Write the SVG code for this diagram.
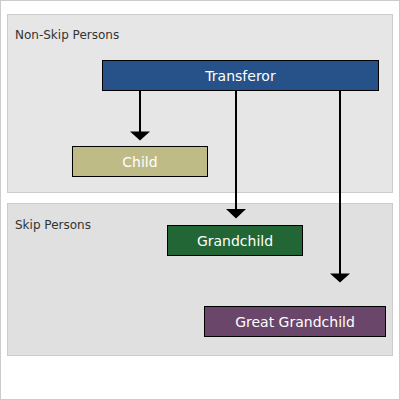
<svg xmlns="http://www.w3.org/2000/svg" width="400" height="400" viewBox="0 0 400 400">
  <style>
    .panel { stroke: #cccccc; stroke-width: 1; }
    .node { stroke: #000000; stroke-width: 1; }
    .lbl { font-family: "DejaVu Sans", Verdana, sans-serif; font-size: 14px; fill: #ffffff; text-anchor: middle; }
    .plbl { font-family: "DejaVu Sans", Verdana, sans-serif; font-size: 12px; fill: #333333; }
    .conn { stroke: #000000; stroke-width: 2; fill: none; }
    .head { fill: #000000; stroke: none; }
  </style>
  <rect x="0.5" y="0.5" width="399" height="399" fill="#ffffff" stroke="#cccccc"/>
  <g id="panel-nonskip">
    <rect class="panel" x="7.5" y="14.5" width="385" height="178" fill="#e6e6e6"/>
    <text class="plbl" x="15" y="39">Non-Skip Persons</text>
  </g>
  <g id="panel-skip">
    <rect class="panel" x="7.5" y="203.5" width="385" height="152" fill="#e0e0e0"/>
    <text class="plbl" x="15" y="229">Skip Persons</text>
  </g>
  <g id="connectors">
    <line class="conn" x1="140" y1="91" x2="140" y2="133"/>
    <path class="head" d="M130,131.5 L150,131.5 L140,140.5 Z"/>
    <line class="conn" x1="236" y1="91" x2="236" y2="210"/>
    <path class="head" d="M226,209 L246,209 L236,218.5 Z"/>
    <line class="conn" x1="340" y1="91" x2="340" y2="275"/>
    <path class="head" d="M330,273.5 L350,273.5 L340,282.5 Z"/>
  </g>
  <g id="transferor">
    <rect class="node" x="102.5" y="60.5" width="276" height="30" fill="#265289"/>
    <text class="lbl" x="240.5" y="80.5">Transferor</text>
  </g>
  <g id="child">
    <rect class="node" x="72.5" y="146.5" width="135" height="30" fill="#bfbb87"/>
    <text class="lbl" x="140" y="166.5">Child</text>
  </g>
  <g id="grandchild">
    <rect class="node" x="167.5" y="225.5" width="135" height="30" fill="#226636"/>
    <text class="lbl" x="235" y="245.5">Grandchild</text>
  </g>
  <g id="greatgrandchild">
    <rect class="node" x="204.5" y="306.5" width="181" height="30" fill="#6b466b"/>
    <text class="lbl" x="295" y="326.5">Great Grandchild</text>
  </g>
</svg>
